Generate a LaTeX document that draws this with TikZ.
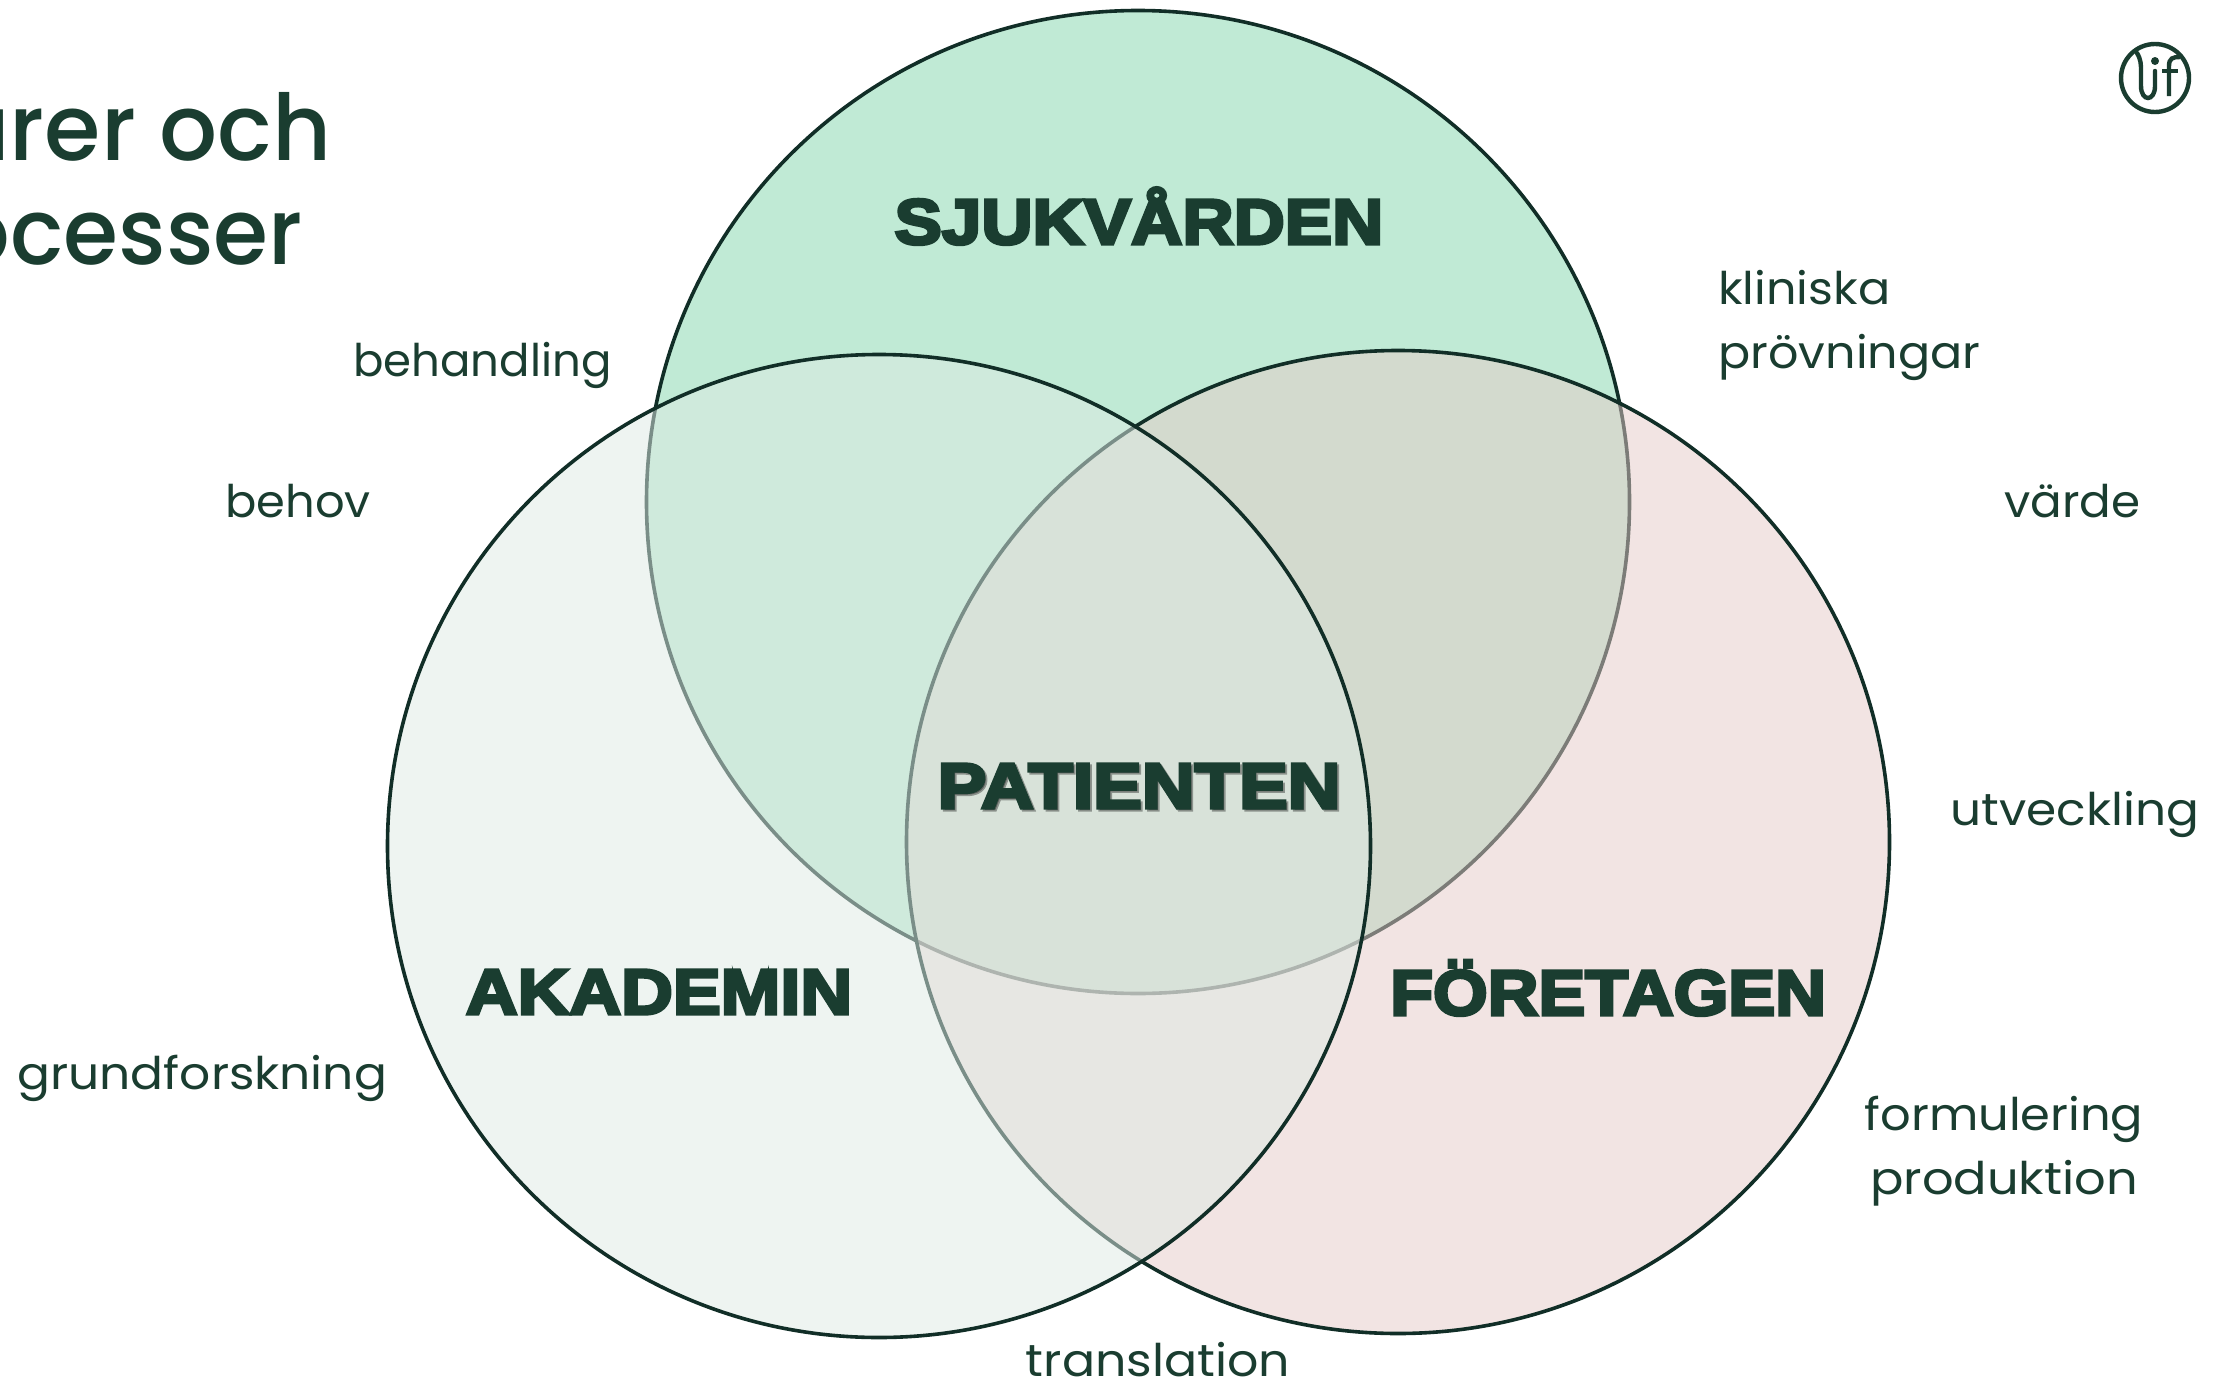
\documentclass[tikz,border=0pt]{standalone}
\usepackage{graphicx}
\usepackage{fontspec}
\setmainfont{Poppins}
\newfontfamily\heavyfont[UprightFont={* Bold},FakeStretch=1.12,FakeBold=5]{Liberation Sans}
\newfontfamily\titlefont[UprightFont={* Medium}]{Poppins}
\newcommand{\xfit}[2]{\scalebox{#1}[1]{#2}}
\definecolor{ink}{RGB}{26,61,48}
\definecolor{rim}{RGB}{17,46,39}
\definecolor{sfill}{RGB}{192,234,213}
\definecolor{ffill}{RGB}{231,203,201}
\definecolor{afill}{RGB}{222,234,228}
\tikzset{
  x=0.5pt,y=-0.5pt,
  venn/.style={circle,draw=rim,line width=1.8pt,inner sep=0pt,outer sep=0pt,minimum size=491.5pt},
  word/.style={anchor=base west,text=ink,inner sep=0pt,font=\fontsize{22.5}{27}\selectfont},
  wordc/.style={word,anchor=base},
  sector/.style={anchor=base,text=ink,inner sep=0pt,font=\heavyfont\fontsize{32}{38}\selectfont},
  headline/.style={anchor=base east,text=ink,inner sep=0pt,font=\titlefont\fontsize{46}{55}\selectfont},
  logoline/.style={draw=ink,line width=2.2pt}
}
\begin{document}
\begin{tikzpicture}
\path[use as bounding box] (0,0) rectangle (2223,1381);
\clip (0,0) rectangle (2223,1381);
\fill[white] (0,0) rectangle (2223,1381);
\node[venn,fill=sfill] (sjuk) at (1138,502) {};
\node[venn,fill=ffill,fill opacity=.5] (fore) at (1398,842) {};
\node[venn,fill=afill,fill opacity=.515] (akad) at (879,846) {};
\node[sector] (lsjuk) at (1139,244) {\xfit{.99}{SJUKVÅRDEN}};
\node[sector] (lakad) at (659,1014) {AKADEMIN};
\node[sector] (lfore) at (1608,1015) {\xfit{.98}{FÖRETAGEN}};
\node[sector,text=black,opacity=.35] (lpats) at (1141,810) {\xfit{1.018}{PATIENTEN}};
\node[sector] (lpat) at (1139,808) {\xfit{1.018}{PATIENTEN}};
\node[headline] (t1) at (332,160) {\xfit{.99}{arer och}};
\node[headline] (t2) at (303,264) {\xfit{.966}{ocesser}};
\node[word] (behandling) at (353,376) {behandling};
\node[word] (behov) at (225,517) {\xfit{1.03}{behov}};
\node[word] (grund) at (17,1089) {\xfit{1.083}{grundforskning}};
\node[word] (klin) at (1718,304) {\xfit{1.06}{kliniska}};
\node[word] (prov) at (1718,368) {\xfit{1.058}{prövningar}};
\node[word] (varde) at (2004,517) {\xfit{1.04}{värde}};
\node[word] (utv) at (1950,825) {\xfit{1.08}{utveckling}};
\node[wordc] (form) at (2004,1130) {\xfit{1.065}{formulering}};
\node[wordc] (prod) at (2004,1194) {\xfit{1.1}{produktion}};
\node[wordc] (trans) at (1158,1376) {\xfit{1.09}{translation}};
% logo
\draw[logoline] (2155,78) circle (34);
\draw[logoline,line cap=round] (2137,53) .. controls (2141,60) and (2141,64) .. (2141,72) -- (2141,86) .. controls (2141,102) and (2155,102) .. (2155,86) -- (2155,71);
\fill[ink] (2155,61) circle (4);
\draw[logoline] (2169,96) -- (2169,66) .. controls (2169,58) and (2173,57) .. (2180,57);
\draw[logoline] (2162,71) -- (2178,71);
\end{tikzpicture}
\end{document}
